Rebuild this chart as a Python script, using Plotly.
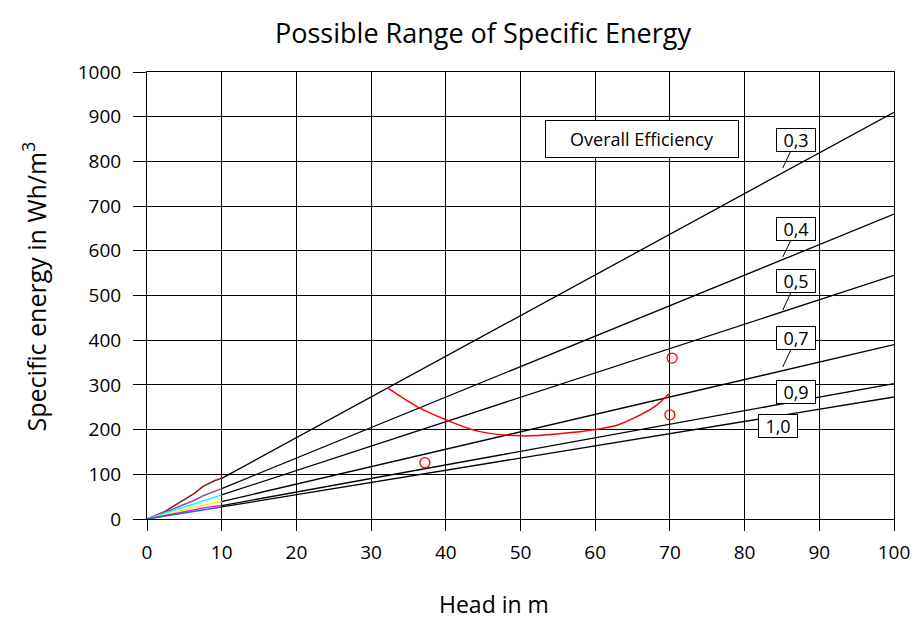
import plotly.graph_objects as go

FONT = "Open Sans"

# Efficiency labels and straight lines (Head 10 -> 100 m)
eff_labels = ["0,3", "0,4", "0,5", "0,7", "0,9", "1,0"]
line_heads = [10, 100]
line_vals = {
    "0,3": [91, 910],
    "0,4": [68, 682],
    "0,5": [54, 545],
    "0,7": [39, 390],
    "0,9": [30, 303],
    "1,0": [27, 273],
}

# Coloured segments for Head 0 -> 10 m
small_colors = ["#8B1A1A", "#9B4FA0", "#00FFFF", "#FFFF00", "#FF00FF", "#1F6FB5"]
small_x = {
    "0,3": [0, 2.4, 6.4, 7.5, 9.1, 10],
    "0,4": [0, 3, 6.5, 7.5, 10],
    "0,5": [0, 4, 7, 10],
    "0,7": [0, 5, 8, 10],
    "0,9": [0, 5, 8, 10],
    "1,0": [0, 5, 8, 10],
}
small_y = {
    "0,3": [0, 17, 58, 73, 86, 91],
    "0,4": [0, 19, 43, 52, 68],
    "0,5": [0, 21, 37, 54],
    "0,7": [0, 21, 33, 39],
    "0,9": [0, 16, 26, 30],
    "1,0": [0, 14, 22, 27],
}

# Red curve
curve_x = [32.3, 36.4, 40, 44.4, 50.2, 55.5, 60, 63.1, 65.7, 68, 70]
curve_y = [292, 249, 222, 196, 186, 191, 200, 211, 230, 252, 282]

# Red open markers
pts_x = [37.2, 70.0, 70.3]
pts_y = [126, 233, 360]

# Callout positions (box centre and tip)
callout_box_x = [86.9, 86.9, 86.9, 86.9, 86.9, 84.5]
callout_box_y = [849, 648, 532, 404, 285, 208]
callout_tip_x = [85.1, 85.1, 85.1, 85.1, None, None]
callout_tip_y = [785, 586, 467, 340, None, None]

x_ticks = list(range(0, 101, 10))
y_ticks = list(range(0, 1001, 100))

fig = go.Figure()

for lab in eff_labels:
    fig.add_trace(go.Scatter(x=line_heads, y=line_vals[lab], mode="lines",
                             line=dict(color="black", width=1.3), hoverinfo="skip"))

for lab, c in zip(eff_labels, small_colors):
    fig.add_trace(go.Scatter(x=small_x[lab], y=small_y[lab], mode="lines",
                             line=dict(color=c, width=1.5), hoverinfo="skip"))

fig.add_trace(go.Scatter(x=curve_x, y=curve_y, mode="lines", line_shape="spline",
                         line=dict(color="red", width=1.5)))
fig.add_trace(go.Scatter(x=pts_x, y=pts_y, mode="markers",
                         marker=dict(symbol="circle-open", color="red", size=10,
                                     line=dict(width=1.3, color="red"))))

plot_l, plot_r, plot_t, plot_b = 147, 897, 72, 519
pw, ph = plot_r - plot_l, plot_b - plot_t

annotations = []
for i, lab in enumerate(eff_labels):
    bx, by = callout_box_x[i], callout_box_y[i]
    tx, ty = callout_tip_x[i], callout_tip_y[i]
    common = dict(text=lab, font=dict(family=FONT, size=18, color="black"),
                  bgcolor="white", bordercolor="black", borderwidth=1, borderpad=0,
                  width=38, height=22)
    if tx is not None:
        annotations.append(dict(
            x=tx, y=ty, xref="x", yref="y",
            ax=bx, ay=by, axref="x", ayref="y",
            showarrow=True, arrowhead=0, arrowwidth=1, arrowcolor="black",
            standoff=0, startstandoff=0, **common))
    else:
        annotations.append(dict(x=bx, y=by, xref="x", yref="y", showarrow=False, **common))

annotations.append(dict(
    x=66.3, y=851, xref="x", yref="y", text="Overall Efficiency", showarrow=False,
    font=dict(family=FONT, size=18, color="black"),
    bgcolor="white", bordercolor="black", borderwidth=1, borderpad=0,
    width=192, height=36))

annotations.append(dict(
    x=(495 - plot_l) / pw, y=(plot_b - 604) / ph, xref="paper", yref="paper",
    xanchor="center", yanchor="middle", text="Head in m", showarrow=False,
    font=dict(family=FONT, size=23, color="black")))
annotations.append(dict(
    x=(34 - plot_l) / pw, y=(plot_b - 286) / ph, xref="paper", yref="paper",
    xanchor="center", yanchor="middle", text="Specific energy in Wh/m<sup>3</sup>",
    textangle=-90, showarrow=False,
    font=dict(family=FONT, size=25, color="black")))

fig.update_layout(
    width=922, height=624,
    margin=dict(l=plot_l, r=922 - plot_r, t=plot_t, b=624 - plot_b),
    paper_bgcolor="white", plot_bgcolor="white",
    showlegend=False,
    title=dict(text="Possible Range of Specific Energy", x=483 / 922, xref="container",
               xanchor="center", y=1 - 34 / 624, yref="container", yanchor="middle",
               font=dict(family=FONT, size=27, color="black")),
    font=dict(family=FONT, color="black"),
    xaxis=dict(range=[0, 100], tickvals=x_ticks, showgrid=True, gridcolor="black",
               gridwidth=1, zeroline=False, showline=True, linecolor="black", mirror=True,
               ticks="outside", ticklen=11, tickcolor="black", ticklabelstandoff=5,
               tickfont=dict(family=FONT, size=19, color="black")),
    yaxis=dict(range=[0, 1000], tickvals=y_ticks, showgrid=True, gridcolor="black",
               gridwidth=1, zeroline=False, showline=True, linecolor="black", mirror=True,
               ticks="outside", ticklen=13, tickcolor="black", ticklabelstandoff=8,
               tickfont=dict(family=FONT, size=19, color="black")),
    annotations=annotations,
)

fig.write_html("out.html", config={"displayModeBar": False},
               post_script="document.body.style.margin='0';")
